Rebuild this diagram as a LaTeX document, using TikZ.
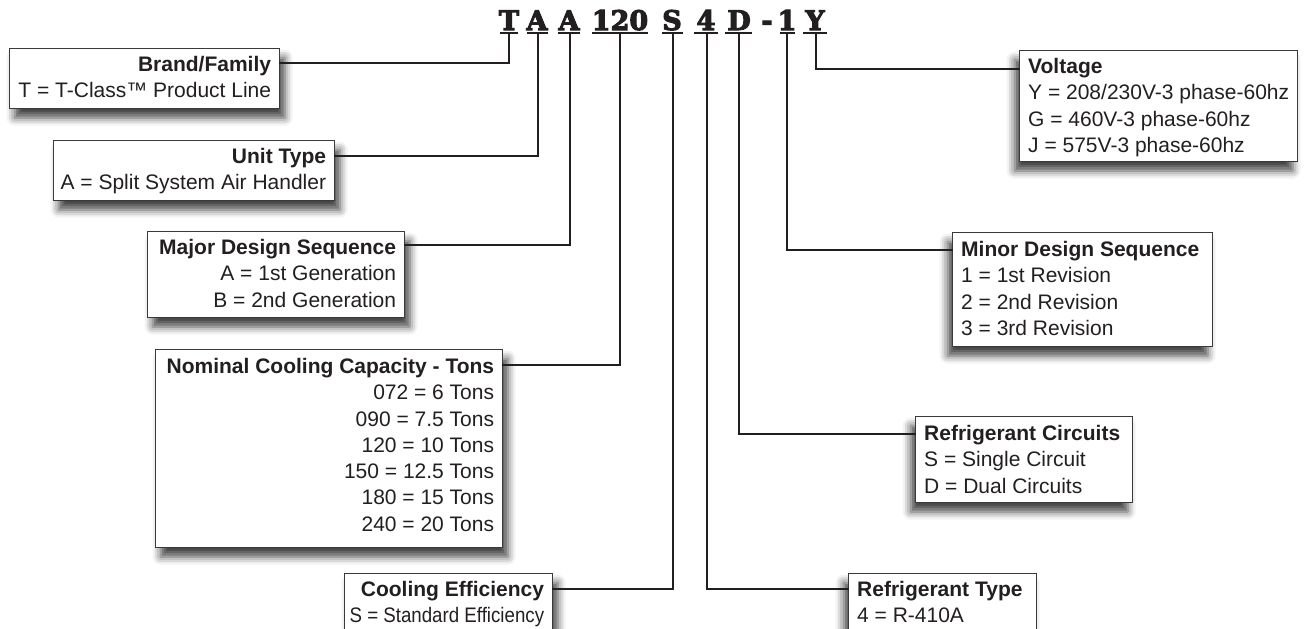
\documentclass[tikz,border=0pt]{standalone}
\usepackage{fontspec}
\setmainfont{Liberation Sans}
\newfontfamily\codefont[FakeBold=4]{DejaVu Serif Bold}
\usetikzlibrary{shadows.blur}
\definecolor{txtc}{HTML}{231F20}
\definecolor{boxc}{HTML}{3A3A3A}
\begin{document}
\begin{tikzpicture}[x=1pt,y=-1pt,
  box/.style={draw=boxc, line width=1.3pt, fill=white, anchor=north west, inner sep=0pt,
    blur shadow={shadow xshift=#1, shadow yshift=-9pt, shadow blur radius=8pt, shadow opacity=75}},
  box/.default=5pt,
  txt/.style={inner sep=0pt, text=txtc, font=\fontsize{21}{26.3}\selectfont},
  txtR/.style={txt, align=right, anchor=north east},
  txtL/.style={txt, align=left, anchor=north west},
  code/.style={inner sep=0pt, anchor=base, text=txtc, font=\codefont\fontsize{27}{27}\selectfont},
  uline/.style={draw=txtc, line width=2pt},
  conn/.style={draw=txtc, line width=2.4pt, line cap=rect, line join=miter}
]
\useasboundingbox (0,0) rectangle (1304,629);

% code characters
\node[code] (cT)  at (509,30) {T};
\node[code] (cA1) at (537,30) {A};
\node[code] (cA2) at (569,30) {A};
\node[code] (c120) at (620,30) {120};
\node[code] (cS)  at (672,30) {S};
\node[code] (c4)  at (706,30) {4};
\node[code] (cD)  at (739,30) {D};
\node[code] (cdash) at (767,30) {-};
\node[code] (c1)  at (787,30) {1};
\node[code] (cY)  at (815,30) {Y};

% underline anchor points
\coordinate (uT)   at (509,33);
\coordinate (uA1)  at (538,33);
\coordinate (uA2)  at (570,33);
\coordinate (u120) at (620,33);
\coordinate (uS)   at (673,33);
\coordinate (u4)   at (707,33);
\coordinate (uD)   at (739,33);
\coordinate (u1)   at (787,33);
\coordinate (uY)   at (816,33);

\draw[uline] ([xshift=-9pt]uT) -- ([xshift=9pt]uT);
\draw[uline] ([xshift=-11pt]uA1) -- ([xshift=10pt]uA1);
\draw[uline] ([xshift=-12pt]uA2) -- ([xshift=10pt]uA2);
\draw[uline] ([xshift=-28pt]u120) -- ([xshift=28pt]u120);
\draw[uline] ([xshift=-11pt]uS) -- ([xshift=10pt]uS);
\draw[uline] ([xshift=-13pt]u4) -- ([xshift=11pt]u4);
\draw[uline] ([xshift=-14pt]uD) -- ([xshift=13pt]uD);
\draw[uline] ([xshift=-7pt]u1) -- ([xshift=8pt]u1);
\draw[uline] ([xshift=-13pt]uY) -- ([xshift=11pt]uY);

% boxes (left side)
\node[box, minimum width=270pt, minimum height=60pt] (brand) at (9,48) {};
\node[txtR] (brandT) at ([xshift=-9pt,yshift=-8pt]brand.north east)
  {\textbf{Brand/Family}\\T = T-Class™ Product Line};

\node[box, minimum width=281pt, minimum height=60pt] (unit) at (53,140) {};
\node[txtR] (unitT) at ([xshift=-9pt,yshift=-8pt]unit.north east)
  {\textbf{Unit Type}\\A = Split System Air Handler};

\node[box, minimum width=257pt, minimum height=86pt] (major) at (147,231) {};
\node[txtR] (majorT) at ([xshift=-9pt,yshift=-8pt]major.north east)
  {\textbf{Major Design Sequence}\\A = 1st Generation\\B = 2nd Generation};

\node[box, minimum width=347pt, minimum height=198pt] (nominal) at (155,349) {};
\node[txtR] (nominalT) at ([xshift=-9pt,yshift=-9pt]nominal.north east)
  {\textbf{Nominal Cooling Capacity - Tons}\\072 = 6 Tons\\090 = 7.5 Tons\\120 = 10 Tons\\150 = 12.5 Tons\\180 = 15 Tons\\240 = 20 Tons};

\node[box, minimum width=208pt, minimum height=80pt] (cooleff) at (344,573) {};
\node[txtR] (cooleffT) at ([xshift=-9pt,yshift=-8pt]cooleff.north east)
  {\textbf{Cooling Efficiency}\\\scalebox{0.89}[1]{S = Standard Efficiency}};

% boxes (right side)
\node[box=-5pt, minimum width=188pt, minimum height=80pt] (reftype) at (848,573) {};
\node[txtL] (reftypeT) at ([xshift=9pt,yshift=-8pt]reftype.north west)
  {\textbf{Refrigerant Type}\\4 = R-410A};

\node[box=-5pt, minimum width=217pt, minimum height=86pt] (refcirc) at (915,416) {};
\node[txtL] (refcircT) at ([xshift=9pt,yshift=-9pt]refcirc.north west)
  {\textbf{Refrigerant Circuits}\\S = Single Circuit\\D = Dual Circuits};

\node[box=-5pt, minimum width=260pt, minimum height=114pt] (minor) at (952,232) {};
\node[txtL] (minorT) at ([xshift=9pt,yshift=-9pt]minor.north west)
  {\textbf{Minor Design Sequence}\\1 = 1st Revision\\2 = 2nd Revision\\3 = 3rd Revision};

\node[box=-5pt, minimum width=278pt, minimum height=111pt] (volt) at (1019,50) {};
\node[txtL] (voltT) at ([xshift=9pt,yshift=-8pt]volt.north west)
  {\textbf{Voltage}\\Y = 208/230V-3 phase-60hz\\G = 460V-3 phase-60hz\\J = 575V-3 phase-60hz};

% connectors
\draw[conn] (uT)   |- ([yshift=-15pt]brand.north east);
\draw[conn] (uA1)  |- ([yshift=-16pt]unit.north east);
\draw[conn] (uA2)  |- ([yshift=-14pt]major.north east);
\draw[conn] (u120) |- ([yshift=-16pt]nominal.north east);
\draw[conn] (uS)   |- ([yshift=-16pt]cooleff.north east);
\draw[conn] (u4)   |- ([yshift=-16pt]reftype.north west);
\draw[conn] (uD)   |- ([yshift=-18pt]refcirc.north west);
\draw[conn] (u1)   |- ([yshift=-18pt]minor.north west);
\draw[conn] (uY)   |- ([yshift=-19pt]volt.north west);
\end{tikzpicture}
\end{document}
